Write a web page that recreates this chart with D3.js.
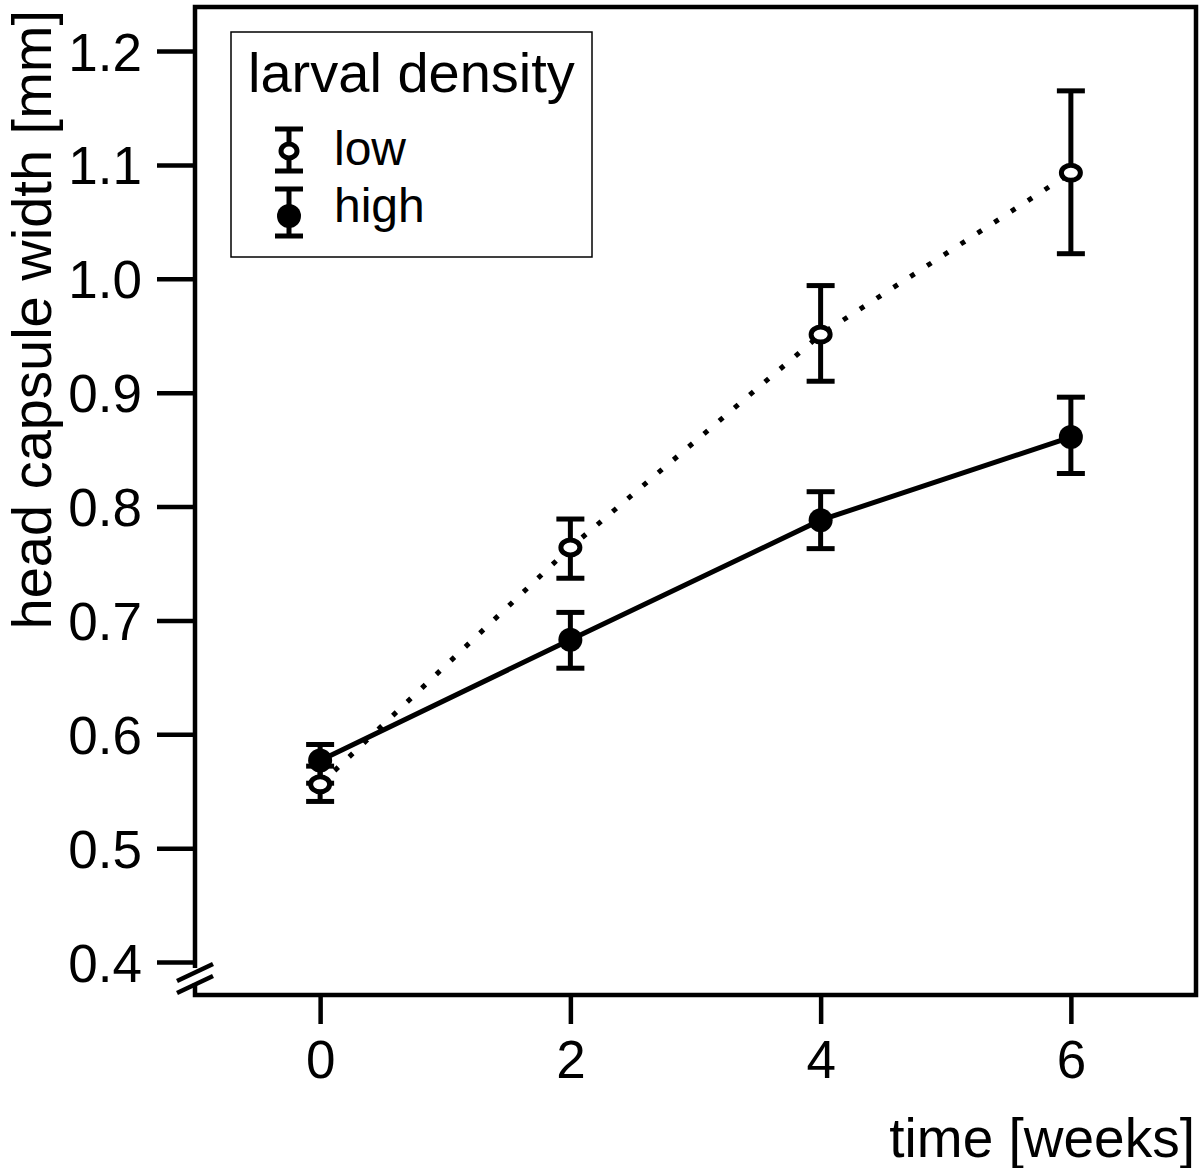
<!DOCTYPE html>
<html><head><meta charset="utf-8">
<script src="https://cdn.jsdelivr.net/npm/d3@7"></script>
<style>body{margin:0;background:#fff}</style>
</head><body>
<svg id="c" width="1200" height="1168"></svg>
<script>
const weeks = [0, 2, 4, 6];
const lowMean = [0.556, 0.764, 0.951, 1.093];
const lowLo   = [0.541, 0.737, 0.910, 1.022];
const lowHi   = [0.572, 0.789, 0.994, 1.165];
const highMean = [0.577, 0.683, 0.788, 0.861];
const highLo   = [0.557, 0.658, 0.763, 0.829];
const highHi   = [0.591, 0.707, 0.813, 0.896];
const yTicks = [0.4, 0.5, 0.6, 0.7, 0.8, 0.9, 1.0, 1.1, 1.2];
const xTicks = [0, 2, 4, 6];

const svg = d3.select("#c");
const font = "'Liberation Sans', Arial, sans-serif";
const L = 195, R = 1196, T = 7, B = 995;
const x = d3.scaleLinear().domain([-1, 7]).range([L, R]);
const y = d3.scaleLinear().domain([0.4, 1.2]).range([962, 51]);
const SW = 4.5;

// frame (with gap on left for the break)
const g = svg.append("g").attr("fill","none").attr("stroke","#000").attr("stroke-width",SW);
g.append("path").attr("d", `M${L},968 L${L},${T} L${R},${T} L${R},${B} L${L},${B} L${L},983`);
// break marks
g.append("line").attr("x1",177).attr("y1",981).attr("x2",213).attr("y2",964);
g.append("line").attr("x1",177).attr("y1",993).attr("x2",213).attr("y2",976);

// y axis
const ya = svg.append("g").attr("transform",`translate(${L},0)`)
  .call(d3.axisLeft(y).tickValues(yTicks).tickSize(38).tickPadding(15).tickFormat(d3.format(".1f")));
ya.select(".domain").remove();
ya.selectAll("line").attr("stroke","#000").attr("stroke-width",SW);
ya.selectAll("text").attr("font-family",font).attr("font-size",53).attr("fill","#000").attr("dy","0.36em");

// x axis
const xa = svg.append("g").attr("transform",`translate(0,${B})`)
  .call(d3.axisBottom(x).tickValues(xTicks).tickSize(29).tickPadding(16).tickFormat(d3.format("d")));
xa.select(".domain").remove();
xa.selectAll("line").attr("stroke","#000").attr("stroke-width",SW);
xa.selectAll("text").attr("font-family",font).attr("font-size",53).attr("fill","#000").attr("dy","0.72em");

// titles
svg.append("text").attr("x",1195).attr("y",1157).attr("text-anchor","end")
  .attr("font-family",font).attr("font-size",55).text("time [weeks]");
svg.append("text").attr("transform","translate(51,10) rotate(-90)").attr("text-anchor","end")
  .attr("font-family",font).attr("font-size",56).text("head capsule width [mm]");

// lines
const line = d3.line().x(d=>x(d[0])).y(d=>y(d[1]));
svg.append("path").datum(weeks.map((w,i)=>[w,lowMean[i]])).attr("d",line)
  .attr("fill","none").attr("stroke","#000").attr("stroke-width",5).attr("stroke-dasharray","5,15");
svg.append("path").datum(weeks.map((w,i)=>[w,highMean[i]])).attr("d",line)
  .attr("fill","none").attr("stroke","#000").attr("stroke-width",5);

function errbars(lo, hi) {
  const eg = svg.append("g").attr("stroke","#000").attr("stroke-width",5);
  weeks.forEach((w,i)=>{
    const cx = x(w);
    eg.append("line").attr("x1",cx).attr("x2",cx).attr("y1",y(lo[i])).attr("y2",y(hi[i]));
    eg.append("line").attr("x1",cx-14).attr("x2",cx+14).attr("y1",y(lo[i])).attr("y2",y(lo[i]));
    eg.append("line").attr("x1",cx-14).attr("x2",cx+14).attr("y1",y(hi[i])).attr("y2",y(hi[i]));
  });
}
errbars(highLo, highHi);
errbars(lowLo, lowHi);
svg.append("g").selectAll("ellipse").data(weeks).join("ellipse")
  .attr("cx",d=>x(d)).attr("cy",(d,i)=>y(lowMean[i])).attr("rx",9.5).attr("ry",7.5)
  .attr("fill","#fff").attr("stroke","#000").attr("stroke-width",5);
svg.append("g").selectAll("circle").data(weeks).join("circle")
  .attr("cx",d=>x(d)).attr("cy",(d,i)=>y(highMean[i])).attr("r",12).attr("fill","#000");

// legend
const lg = svg.append("g");
lg.append("rect").attr("x",231).attr("y",32).attr("width",361).attr("height",225)
  .attr("fill","#fff").attr("stroke","#000").attr("stroke-width",1.5);
lg.append("text").attr("x",248).attr("y",92).attr("font-family",font).attr("font-size",56).text("larval density");
const legItems = [{label:"low", top:129, bot:171, cy:151, ty:165, open:true},
                  {label:"high", top:189, bot:236, cy:216, ty:222, open:false}];
legItems.forEach(it=>{
  const cx = 289;
  const s = lg.append("g").attr("stroke","#000").attr("stroke-width",5);
  s.append("line").attr("x1",cx).attr("x2",cx).attr("y1",it.top).attr("y2",it.bot);
  s.append("line").attr("x1",cx-14).attr("x2",cx+14).attr("y1",it.top).attr("y2",it.top);
  s.append("line").attr("x1",cx-14).attr("x2",cx+14).attr("y1",it.bot).attr("y2",it.bot);
  if (it.open) s.append("ellipse").attr("cx",cx).attr("cy",it.cy).attr("rx",8).attr("ry",7).attr("fill","#fff");
  else s.append("circle").attr("cx",cx).attr("cy",it.cy).attr("r",12).attr("fill","#000").attr("stroke","none");
  lg.append("text").attr("x",334).attr("y",it.ty).attr("font-family",font).attr("font-size",48).text(it.label);
});
</script>
</body></html>
